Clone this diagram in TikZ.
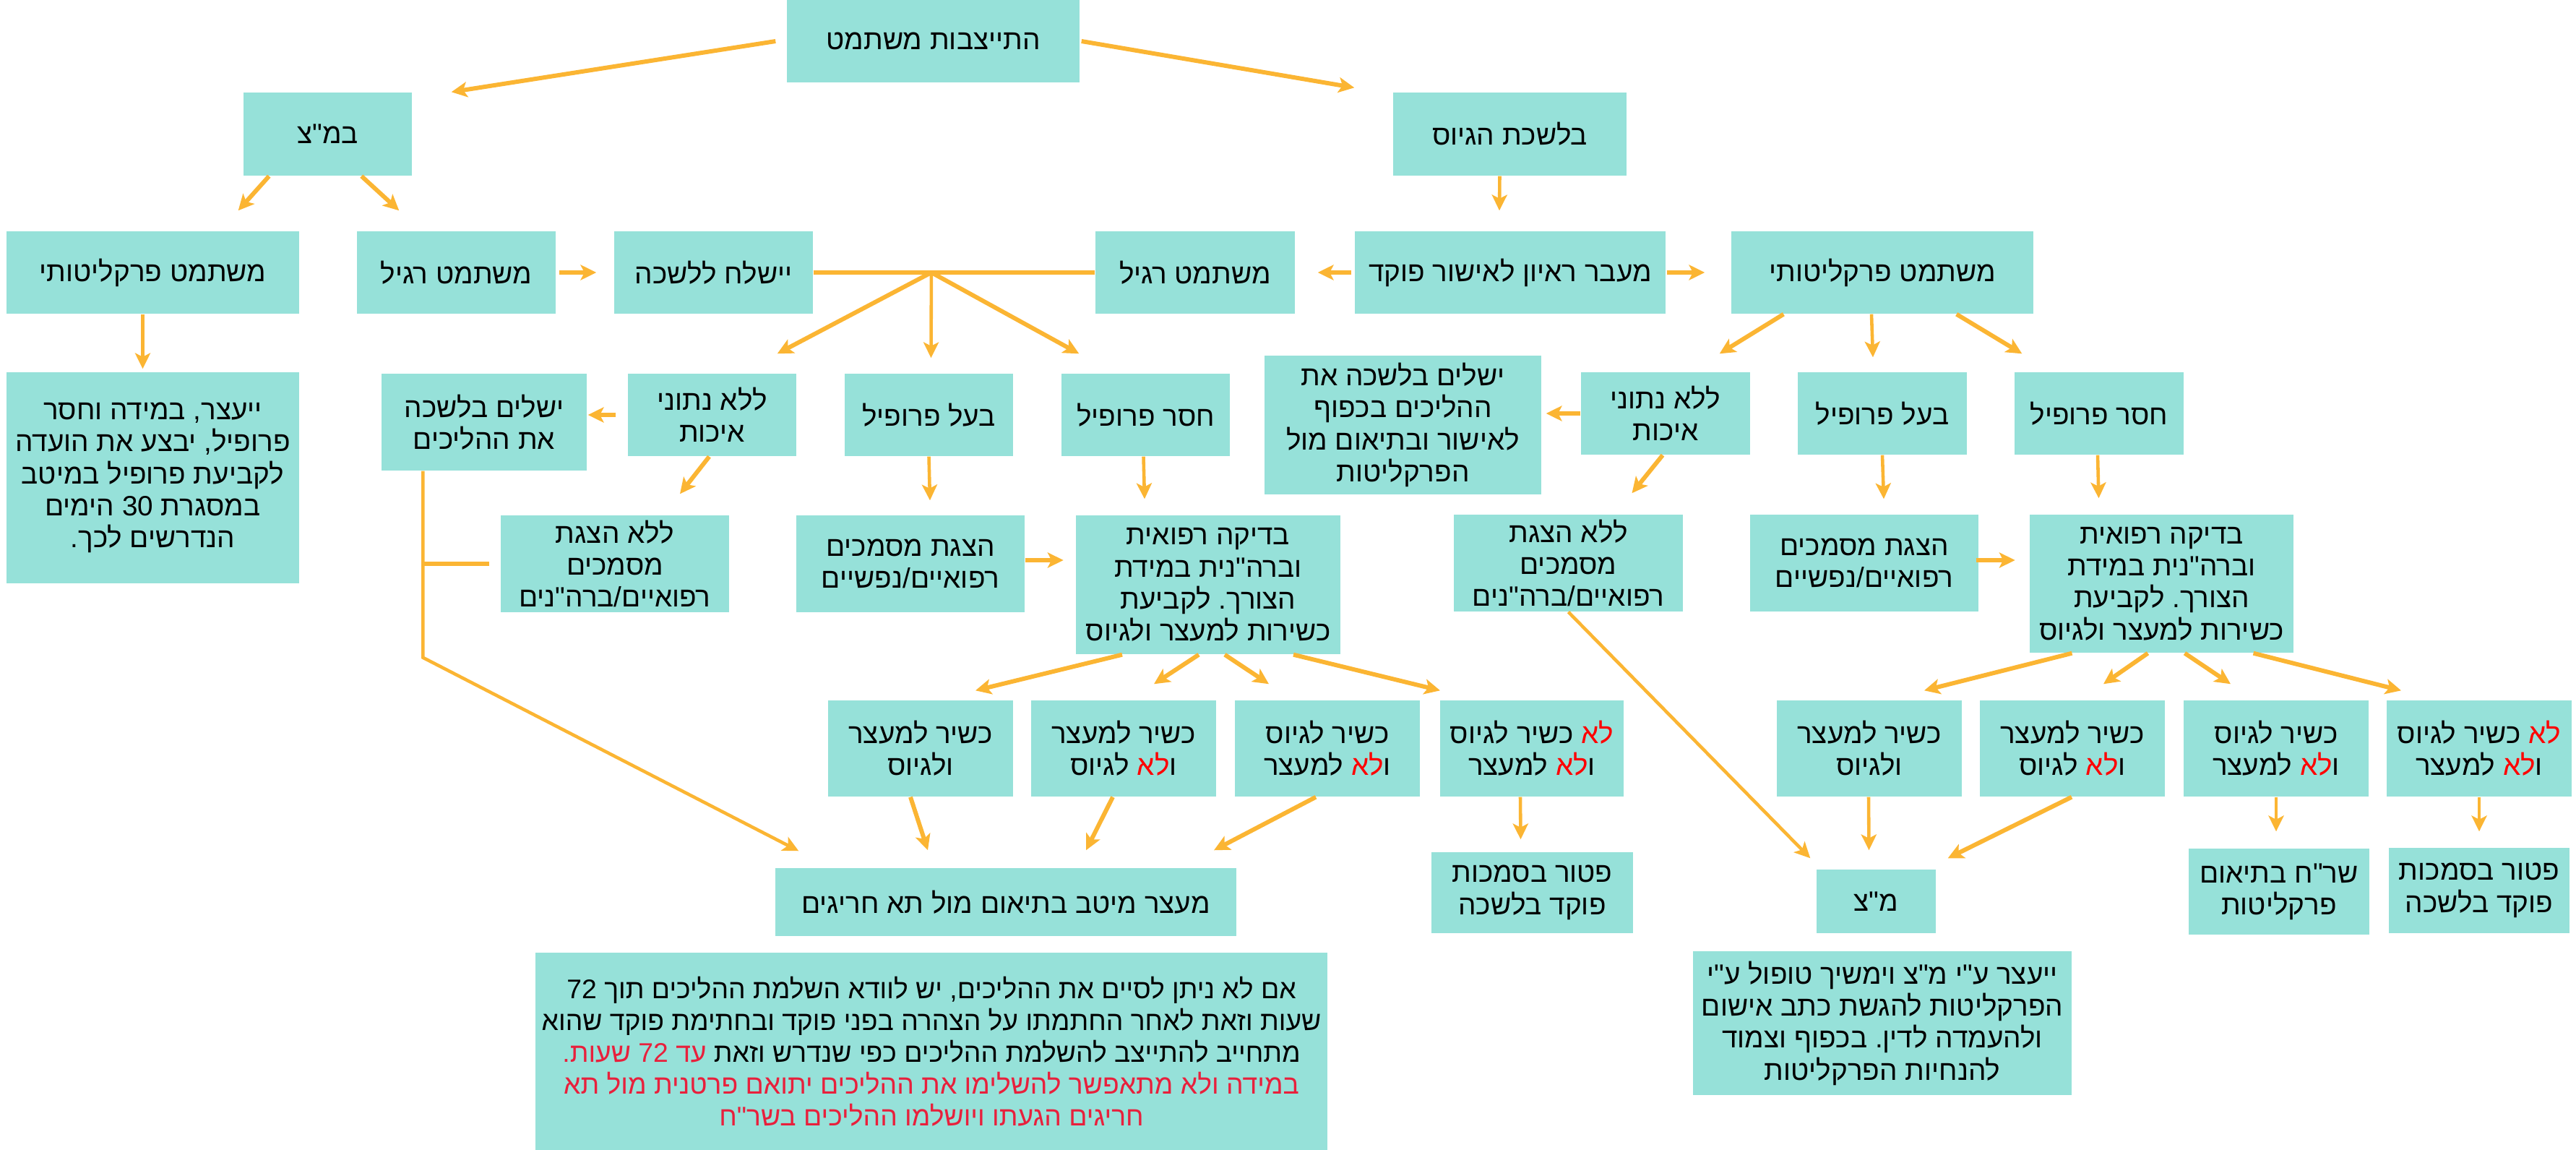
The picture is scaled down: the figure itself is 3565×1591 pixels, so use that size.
\documentclass[tikz,border=0pt]{standalone}
\usepackage{fontspec}
\newfontfamily\hebfont[Script=Hebrew]{Liberation Sans}
\TeXXeTstate=1
\frenchspacing
\usetikzlibrary{arrows.meta,calc}
\definecolor{boxfill}{HTML}{96E1D9}
\definecolor{arr}{HTML}{FBB533}
\definecolor{redA}{HTML}{FF0000}
\definecolor{redB}{HTML}{E8203C}
\newcommand\rl[1]{\beginR #1\endR}
\newcommand\redlo{\textcolor{redA}{\rl{לא}}}
\newcommand\bx[7][]{\node[box, #1, minimum width={(#5-#3)*0.01cm}, minimum height={(#6-#4)*0.01cm}] (#2) at ({(#3+#5)/2},{(#4+#6)/2}) {#7};}
\begin{document}
\begin{tikzpicture}[x=0.01cm, y=-0.01cm,
  box/.style={fill=boxfill, inner sep=0pt, align=center, text=black,
    font=\hebfont\fontsize{11}{12.6}\selectfont},
  con/.style={draw=arr, line width=1.7pt, -{Stealth[length=6.2pt,width=6pt,inset=1.5pt]}},
  thin/.style={line width=1.3pt},
  ln/.style={draw=arr, line width=1.7pt}]
\useasboundingbox (0,0) rectangle (3565,1591);
% row 0-1
\bx{top}{1089}{0}{1494}{114}{\rl{התייצבות משתמט}}
\bx{bmz}{337}{128}{570}{243}{\rl{במ"צ}}
\bx{lishka}{1928}{128}{2251}{243}{\rl{בלשכת הגיוס}}
% row 2
\bx{LP}{9}{320}{414}{434}{\rl{משתמט פרקליטותי}}
\bx{LR}{494}{320}{769}{434}{\rl{משתמט רגיל}}
\bx{send}{850}{320}{1125}{434}{\rl{יישלח ללשכה}}
\bx{RR}{1516}{320}{1792}{434}{\rl{משתמט רגיל}}
\bx{interview}{1875}{320}{2305}{434}{\rl{מעבר ראיון לאישור פוקד}}
\bx{RP}{2396}{320}{2814}{434}{\rl{משתמט פרקליטותי}}
% row 3
\bx{advise}{9}{515}{414}{807}{\rl{ייעצר, במידה וחסר}\\\rl{פרופיל, יבצע את הועדה}\\\rl{לקביעת פרופיל במיטב}\\\rl{במסגרת 30 הימים}\\\rl{הנדרשים לכך.}}
\bx{Lcomplete}{528}{517}{812}{651}{\rl{ישלים בלשכה}\\\rl{את ההליכים}}
\bx{LnoData}{869}{517}{1102}{631}{\rl{ללא נתוני}\\\rl{איכות}}
\bx{Lhas}{1169}{517}{1402}{631}{\rl{בעל פרופיל}}
\bx{Llack}{1469}{517}{1702}{631}{\rl{חסר פרופיל}}
\bx{Mcomplete}{1750}{492}{2133}{684}{\rl{ישלים בלשכה את}\\\rl{ההליכים בכפוף}\\\rl{לאישור ובתיאום מול}\\\rl{הפרקליטות}}
\bx{RnoData}{2188}{515}{2422}{629}{\rl{ללא נתוני}\\\rl{איכות}}
\bx{Rhas}{2488}{515}{2722}{629}{\rl{בעל פרופיל}}
\bx{Rlack}{2788}{515}{3022}{629}{\rl{חסר פרופיל}}
% row 4
\bx{LnoDocs}{693}{713}{1009}{847}{\rl{ללא הצגת}\\\rl{מסמכים}\\\rl{רפואיים/ברה"נים}}
\bx{Ldocs}{1102}{713}{1418}{847}{\rl{הצגת מסמכים}\\\rl{רפואיים/נפשיים}}
\bx{Lexam}{1489}{713}{1855}{905}{\rl{בדיקה רפואית}\\\rl{וברה"נית במידת}\\\rl{הצורך. לקביעת}\\\rl{כשירות למעצר ולגיוס}}
\bx{RnoDocs}{2012}{712}{2329}{846}{\rl{ללא הצגת}\\\rl{מסמכים}\\\rl{רפואיים/ברה"נים}}
\bx{Rdocs}{2422}{712}{2738}{846}{\rl{הצגת מסמכים}\\\rl{רפואיים/נפשיים}}
\bx{Rexam}{2809}{712}{3174}{903}{\rl{בדיקה רפואית}\\\rl{וברה"נית במידת}\\\rl{הצורך. לקביעת}\\\rl{כשירות למעצר ולגיוס}}
% row 5
\bx{L1}{1146}{969}{1402}{1102}{\rl{כשיר למעצר}\\\rl{ולגיוס}}
\bx{L2}{1427}{969}{1683}{1102}{\rl{כשיר למעצר}\\\rl{לגיוס} \redlo\rl{ו}}
\bx{L3}{1709}{969}{1965}{1102}{\rl{כשיר לגיוס}\\\rl{למעצר} \redlo\rl{ו}}
\bx{L4}{1993}{969}{2247}{1102}{\rl{כשיר לגיוס} \redlo\\\rl{למעצר} \redlo\rl{ו}}
\bx{R1}{2459}{969}{2715}{1102}{\rl{כשיר למעצר}\\\rl{ולגיוס}}
\bx{R2}{2740}{969}{2996}{1102}{\rl{כשיר למעצר}\\\rl{לגיוס} \redlo\rl{ו}}
\bx{R3}{3022}{969}{3278}{1102}{\rl{כשיר לגיוס}\\\rl{למעצר} \redlo\rl{ו}}
\bx{R4}{3303}{969}{3559}{1102}{\rl{כשיר לגיוס} \redlo\\\rl{למעצר} \redlo\rl{ו}}
% row 6
\bx{detain}{1073}{1201}{1711}{1295}{\rl{מעצר מיטב בתיאום מול תא חריגים}}
\bx{Lexempt}{1981}{1179}{2260}{1291}{\rl{פטור בסמכות}\\\rl{פוקד בלשכה}}
\bx{mz}{2514}{1203}{2679}{1291}{\rl{מ"צ}}
\bx{shrach}{3029}{1174}{3279}{1293}{\rl{שר"ח בתיאום}\\\rl{פרקליטות}}
\bx{Rexempt}{3306}{1173}{3556}{1291}{\rl{פטור בסמכות}\\\rl{פוקד בלשכה}}
% row 7
\bx[font=\hebfont\fontsize{10.6}{12.5}\selectfont]{note}{741}{1318}{1837}{1591}{\rl{אם לא ניתן לסיים את ההליכים, יש לוודא השלמת ההליכים תוך 72}\\\rl{שעות וזאת לאחר החתמתו על הצהרה בפני פוקד ובחתימת פוקד שהוא}\\\textcolor{redB}{\rl{עד 72 שעות.}} \rl{מתחייב להתייצב להשלמת ההליכים כפי שנדרש וזאת}\\\textcolor{redB}{\rl{במידה ולא מתאפשר להשלימו את ההליכים יתואם פרטנית מול תא}}\\\textcolor{redB}{\rl{חריגים הגעתו ויושלמו ההליכים בשר"ח}}}
\bx{Rnote}{2343}{1316}{2867}{1515}{\rl{ייעצר ע"י מ"צ וימשיך טופול ע"י}\\\rl{הפרקליטות להגשת כתב אישום}\\\rl{ולהעמדה לדין. בכפוף וצמוד}\\\rl{להנחיות הפרקליטות}}
% connectors
\draw[con] ($(top.west)+(-15,0)$) -- ($(bmz.north east)+(54,0)$);
\draw[con] ($(top.east)+(2,0)$) -- ($(lishka.north west)+(-53,-6)$);
\draw[con] ($(bmz.south west)+(36,0)$) -- ($(LP.north east)+(-85,-28)$);
\draw[con] ($(bmz.south west)+(164,0)$) -- ($(LR.north west)+(59,-28)$);
\draw[con,thin] ($(LP.south)+(-14,0)$) -- ($(advise.north)+(-14,-4)$);
\draw[con] ($(LR.east)+(4,0)$) -- ($(send.west)+(-24,0)$);
\draw[con,thin] ($(lishka.south)+(-14,0)$) -- ($(interview.north)+(-15,-28)$);
\draw[con] ($(interview.west)+(-4,0)$) -- ($(RR.east)+(31,0)$);
\draw[con] ($(interview.east)+(1,0)$) -- ($(RP.west)+(-36,0)$);
\draw[ln] (send.east) -- (RR.west);
\coordinate (J) at ($(send.east)!0.419!(RR.west)$);
\draw[con] (J) -- ($(LnoData.north east)+(-27,-27)$);
\draw[con,thin] (J) -- ($(Lhas.north)+(3,-21)$);
\draw[con] (J) -- ($(Llack.north west)+(25,-27)$);
\draw[con] ($(RP.south west)+(73,0)$) -- ($(RnoData.north east)+(-43,-25)$);
\draw[con,thin] ($(RP.south)+(-15,0)$) -- ($(Rhas.north)+(-13,-20)$);
\draw[con] ($(RP.south east)+(-107,0)$) -- ($(Rlack.north west)+(11,-25)$);
\draw[con] ($(LnoData.west)+(-16,0)$) -- ($(Lcomplete.east)+(1,-10)$);
\draw[con] ($(LnoData.south)+(-4,0)$) -- ($(LnoDocs.north)+(90,-29)$);
\draw[con,thin] (Lhas.south) -- ($(Ldocs.north)+(27,-20)$);
\draw[con,thin] ($(Llack.south)+(-3,0)$) -- ($(Lexam.north)+(-88,-22)$);
\draw[con] ($(Ldocs.east)+(0,-5)$) -- ($(Ldocs.east)+(53,-5)$);
\draw[con] (RnoData.west) -- ($(Mcomplete.east)+(6,-16)$);
\draw[con] ($(RnoData.south)+(-4,0)$) -- ($(RnoDocs.north)+(88,-29)$);
\draw[con,thin] (Rhas.south) -- ($(Rdocs.north)+(27,-21)$);
\draw[con,thin] ($(Rlack.south)+(-2,0)$) -- ($(Rexam.north)+(-87,-22)$);
\draw[con] ($(Rdocs.east)+(-4,-4)$) -- ($(Rdocs.east)+(50,-4)$);
\draw[con] ($(Lexam.south)+(-119,0)$) -- ($(L1.north)+(76,-13)$);
\draw[con] ($(Lexam.south)+(-13,0)$) -- ($(L2.north)+(42,-22)$);
\draw[con] ($(Lexam.south)+(23,0)$) -- ($(L3.north)+(-81,-22)$);
\draw[con] ($(Lexam.south)+(118,0)$) -- ($(L4.north)+(-127,-13)$);
\draw[con] ($(Rexam.south)+(-124,0)$) -- ($(R1.north)+(76,-13)$);
\draw[con] ($(Rexam.south)+(-19,0)$) -- ($(R2.north)+(43,-22)$);
\draw[con] ($(Rexam.south)+(32,0)$) -- ($(R3.north)+(-63,-22)$);
\draw[con] ($(Rexam.south)+(127,0)$) -- ($(R4.north)+(-108,-13)$);
\coordinate (K) at ($(Lcomplete.south west)+(58,0)$);
\draw[con,thin] (K) -- ++(0,258) -- ($(detain.north west)+(33,-23)$);
\draw[ln] ($(LnoDocs.west)+(-15,0)$) -- (K |- LnoDocs.west);
\draw[con] ($(L1.south)+(-14,0)$) -- ($(detain.north)+(-108,-24)$);
\draw[con] ($(L2.south)+(-15,0)$) -- ($(detain.north)+(111,-24)$);
\draw[con] ($(L3.south)+(-16,0)$) -- ($(detain.north)+(288,-24)$);
\draw[con,thin] ($(L4.south)+(-16,0)$) -- ($(Lexempt.north)+(-16,-17)$);
\draw[con,thin] (RnoDocs.south) -- ($(mz.north west)+(-8,-15)$);
\draw[con,thin] ($(R1.south)+(-1,0)$) -- ($(mz.north)+(-10,-26)$);
\draw[con] ($(R2.south)+(-1,0)$) -- ($(mz.north east)+(16,-15)$);
\draw[con,thin] (R3.south) -- ($(shrach.north)+(-4,-23)$);
\draw[con,thin] (R4.south) -- ($(Rexempt.north)+(0,-22)$);
\end{tikzpicture}
\end{document}
